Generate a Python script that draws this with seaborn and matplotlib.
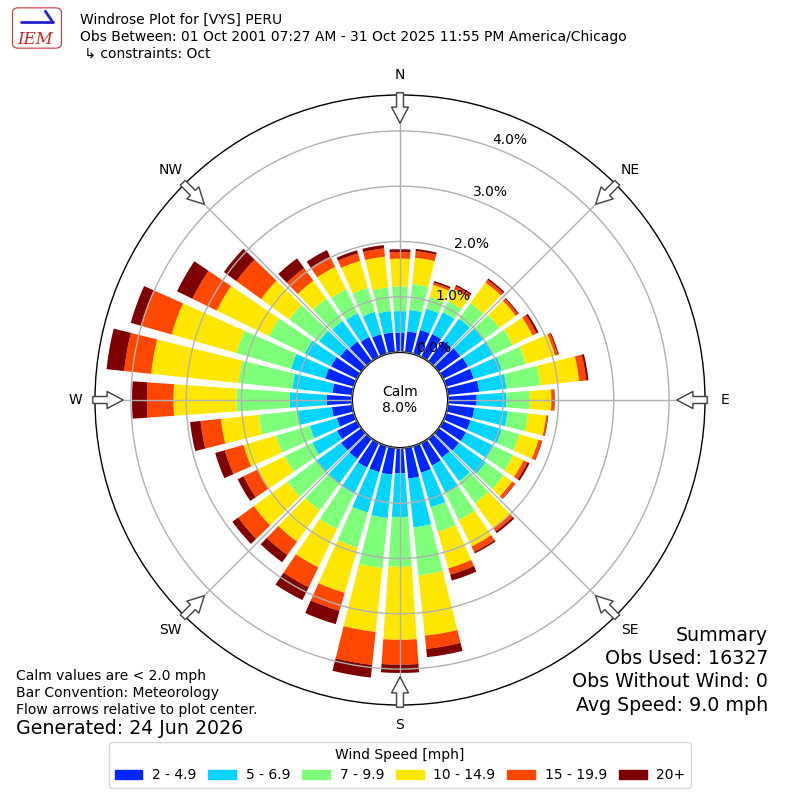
import numpy as np
import matplotlib
matplotlib.use("Agg")
import matplotlib.pyplot as plt
from matplotlib.patches import Patch, FancyBboxPatch
import seaborn as sns

# wind direction bins (deg, meteorological convention)
directions = list(range(0, 360, 10))
speed_labels = ["2 - 4.9", "5 - 6.9", "7 - 9.9", "10 - 14.9", "15 - 19.9", "20+"]

# frequency (%) per direction for each speed bin
spd_2_5 = [0.35, 0.38, 0.45, 0.46, 0.46, 0.48, 0.50, 0.52, 0.57, 0.52, 0.48, 0.46,
           0.46, 0.45, 0.42, 0.45, 0.50, 0.56, 0.46, 0.49, 0.49, 0.49, 0.45, 0.45,
           0.40, 0.32, 0.37, 0.46, 0.36, 0.54, 0.52, 0.47, 0.44, 0.40, 0.37, 0.36]
spd_5_7 = [0.39, 0.39, 0.40, 0.44, 0.49, 0.52, 0.52, 0.53, 0.50, 0.54, 0.61, 0.59,
           0.56, 0.60, 0.53, 0.55, 0.65, 0.89, 0.79, 0.79, 0.76, 0.53, 0.55, 0.55,
           0.50, 0.51, 0.63, 0.67, 0.73, 0.64, 0.53, 0.47, 0.46, 0.48, 0.42, 0.39]
spd_7_10 = [0.45, 0.47, 0.22, 0.22, 0.35, 0.35, 0.38, 0.45, 0.61, 0.42, 0.37, 0.33,
            0.39, 0.40, 0.49, 0.55, 0.46, 0.87, 0.90, 0.91, 0.66, 0.71, 0.60, 0.65,
            0.55, 0.64, 0.70, 0.96, 0.98, 1.03, 0.72, 0.67, 0.50, 0.48, 0.45, 0.43]
spd_10_15 = [0.50, 0.48, 0.23, 0.24, 0.46, 0.37, 0.40, 0.55, 0.71, 0.39, 0.33, 0.36,
             0.21, 0.19, 0.56, 0.53, 0.69, 1.10, 1.32, 1.16, 0.85, 0.77, 0.70, 0.75,
             0.55, 0.61, 0.69, 1.14, 1.59, 1.22, 1.05, 0.63, 0.40, 0.45, 0.51, 0.56]
spd_15_20 = [0.12, 0.12, 0.04, 0.06, 0.06, 0.05, 0.08, 0.05, 0.13, 0.05, 0.03, 0.06,
             0.08, 0.06, 0.07, 0.11, 0.12, 0.24, 0.45, 0.60, 0.34, 0.40, 0.30, 0.35,
             0.28, 0.35, 0.37, 0.48, 0.49, 0.58, 0.49, 0.55, 0.28, 0.21, 0.14, 0.15]
spd_20p = [0.05, 0.04, 0.03, 0.03, 0.03, 0.02, 0.04, 0.02, 0.04, 0.01, 0.01, 0.01,
           0.04, 0.01, 0.04, 0.03, 0.11, 0.15, 0.15, 0.23, 0.25, 0.26, 0.16, 0.13,
           0.12, 0.18, 0.19, 0.27, 0.32, 0.19, 0.31, 0.28, 0.22, 0.13, 0.06, 0.06]
speed_bins = [spd_2_5, spd_5_7, spd_7_10, spd_10_15, spd_15_20, spd_20p]

ring_ticks = [0, 1, 2, 3, 4]
compass = ["N", "NE", "E", "SE", "S", "SW", "W", "NW"]
calm_pct = 8.0

sns.set_style("white")
plt.rcParams['font.family'] = ['DejaVu Sans']
plt.rcParams['text.color'] = 'black'
plt.rcParams['xtick.color'] = 'black'
plt.rcParams['ytick.color'] = 'black'

colors = sns.color_palette(["#0026ff", "#00d4ff", "#7dff7a", "#ffe600", "#ff4700", "#7f0000"])

fig = plt.figure(figsize=(8, 8), dpi=100)
ax = fig.add_axes([0.11875, 0.11875, 0.7625, 0.7625], polar=True)
ax.set_theta_zero_location("N")
ax.set_theta_direction(-1)

theta = np.deg2rad(directions)
bottom = np.zeros(len(directions))
for vals, col, lab in zip(speed_bins, colors, speed_labels):
    ax.bar(theta, vals, width=np.deg2rad(8), bottom=bottom, color=col,
           linewidth=0, zorder=2)
    bottom += np.array(vals)

# hole in the middle for the calm circle
ax.set_rorigin(-0.868)
ax.set_ylim(0, 4.65)
ax.set_yticks(ring_ticks)
ax.set_yticklabels([f"{v:.1f}%" for v in ring_ticks], fontsize=10)
ax.set_rlabel_position(20)
ax.set_xticks(np.deg2rad(range(0, 360, 45)))
ax.set_xticklabels([])
ax.set_axisbelow(False)
ax.grid(True, color="#b0b0b0", linewidth=1)
ax.spines['polar'].set_color('black')
ax.spines['polar'].set_linewidth(1)
ax.spines['inner'].set_color('black')
ax.spines['inner'].set_linewidth(1.5)

# compass labels and inward flow arrows
for d, name in zip(range(0, 360, 45), compass):
    t = np.deg2rad(d)
    ax.text(t, 5.01, name, ha='center', va='center', fontsize=10, clip_on=False)
    ax.annotate("", xy=(t, 4.14), xytext=(t, 4.69), annotation_clip=False,
                arrowprops=dict(arrowstyle="simple,head_length=0.58,head_width=0.61,tail_width=0.25",
                                fc='white', ec='#404040', lw=1, shrinkA=0, shrinkB=0,
                                mutation_scale=20))

ax.text(0.5, 0.5, f"Calm\n{calm_pct:.1f}%", transform=ax.transAxes,
        ha='center', va='center', fontsize=10)

# header
fig.text(0.1, 0.975, "Windrose Plot for [VYS] PERU", fontsize=10, va='center')
fig.text(0.1, 0.954, "Obs Between: 01 Oct 2001 07:27 AM - 31 Oct 2025 11:55 PM America/Chicago",
         fontsize=10, va='center')
fig.text(0.1, 0.933, " \u21b3 constraints: Oct", fontsize=10, va='center')

# logo
lax = fig.add_axes([0.012, 0.935, 0.072, 0.06])
lax.set_xlim(0, 1)
lax.set_ylim(0, 1)
lax.axis('off')
lax.add_patch(FancyBboxPatch((0.05, 0.08), 0.85, 0.84, boxstyle="round,pad=0,rounding_size=0.1",
                             fc='none', ec='#cc3333', lw=0.8))
lax.plot([0.2, 0.75], [0.62, 0.62], color='#2222cc', lw=2)
lax.plot([0.62, 0.75], [0.85, 0.62], color='#2222cc', lw=2)
lax.text(0.45, 0.25, "IEM", color='#cc2222', fontsize=12, style='italic',
         family='DejaVu Serif', ha='center', va='center')

# footer notes
fig.text(0.02, 0.155, "Calm values are < 2.0 mph", fontsize=10, va='center')
fig.text(0.02, 0.134, "Bar Convention: Meteorology", fontsize=10, va='center')
fig.text(0.02, 0.1125, "Flow arrows relative to plot center.", fontsize=10, va='center')
fig.text(0.02, 0.089, "Generated: 24 Jun 2026", fontsize=13.7, va='center')

summary = ["Summary", "Obs Used: 16327", "Obs Without Wind: 0", "Avg Speed: 9.0 mph"]
for i, line in enumerate(summary):
    fig.text(0.96, 0.206 - i * 0.0292, line, fontsize=13.7, ha='right', va='center')

handles = [Patch(color=c, label=l) for c, l in zip(colors, speed_labels)]
fig.legend(handles=handles, loc='lower center', bbox_to_anchor=(0.5, 0.015), ncol=6,
           title="Wind Speed [mph]", fontsize=10, title_fontsize=10,
           handlelength=2.0, handleheight=0.6, handletextpad=0.7, columnspacing=0.85,
           borderaxespad=0, frameon=True)

fig.savefig("out.png", dpi=100)
